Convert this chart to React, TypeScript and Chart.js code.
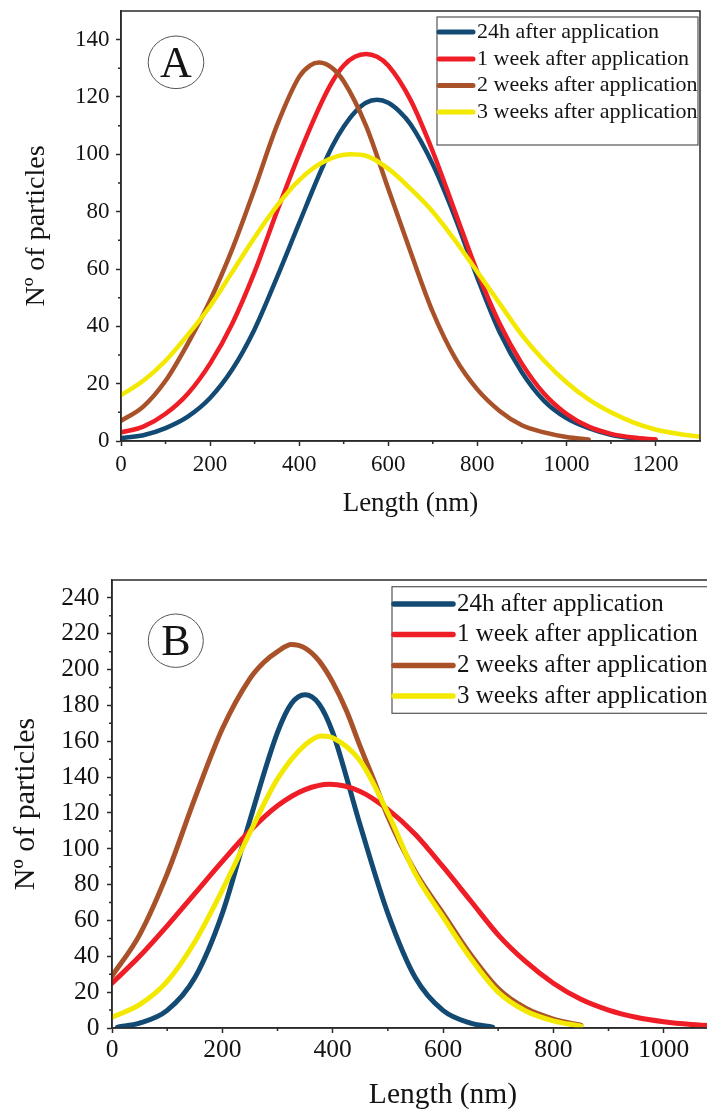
import React, { useEffect, useRef } from 'react';
import { Chart, registerables } from 'chart.js';
Chart.register(...registerables);

const FONT = "'Liberation Serif', 'Times New Roman', serif";
const AXIS = '#2a2a2a';
const TEXT = '#141414';

const SERIES_LABELS = [
  '24h after application',
  '1 week after application',
  '2 weeks after application',
  '3 weeks after application',
];
const SERIES_COLORS = ['#124a74', '#ee1d26', '#a9522a', '#f3e800'];
// lower order = drawn on top
const SERIES_ORDER = [3, 2, 1, 0];

// ---------- Panel A ----------
const H24_A_X = [0, 50, 100, 150, 200, 250, 300, 350, 400, 450, 475, 500, 525, 550, 575, 600, 625, 650, 700, 750, 800, 850, 900, 950, 1000, 1050, 1100, 1150, 1200];
const H24_A = [1, 2, 4.5, 8.5, 15, 25, 39, 57, 76, 94.7, 103, 109.6, 114.7, 118, 119, 118, 115, 110.5, 96.5, 78, 57, 38, 24, 14, 8, 4.5, 2.2, 1, 0.4];
const W1_A_X = [0, 50, 100, 150, 200, 250, 300, 350, 400, 450, 475, 500, 525, 550, 575, 600, 650, 700, 750, 800, 850, 900, 950, 1000, 1050, 1100, 1150, 1200];
const W1_A = [3, 5, 9.5, 16.5, 27, 41, 59, 80, 100, 118, 125.5, 131, 134, 135, 134, 131, 119, 101, 80, 59, 41, 27, 16.5, 9.5, 5, 2.5, 1.2, 0.5];
const W2_A_X = [0, 50, 100, 150, 200, 250, 300, 350, 400, 425, 445, 475, 500, 550, 600, 650, 700, 750, 800, 850, 900, 950, 1000, 1050];
const W2_A = [7, 12, 21, 34, 49, 67, 88, 110, 127, 131, 132, 130, 125.5, 110, 88, 66, 45, 29, 18, 10.5, 5.5, 3, 1.4, 0.5];
const W3_A_X = [0, 50, 100, 150, 200, 250, 300, 350, 400, 450, 515, 550, 600, 650, 700, 750, 800, 850, 900, 950, 1000, 1050, 1100, 1150, 1200, 1250, 1300];
const W3_A = [16, 21, 28, 37, 47, 59, 71, 82, 91, 97, 100, 99.5, 95, 88, 80, 70, 59, 48, 37, 28, 20.5, 14.5, 10, 6.5, 4, 2.5, 1.5];

// ---------- Panel B ----------
const H24_B_X = [10, 50, 100, 150, 200, 250, 300, 325, 350, 375, 400, 450, 500, 550, 600, 650, 690];
const H24_B = [0.5, 2.7, 9.8, 28, 64, 116, 165, 181, 186, 181, 165, 113, 64, 28, 9.8, 2.7, 0.5];
const W1_B_X = [0, 50, 100, 150, 200, 250, 300, 350, 395, 450, 500, 550, 600, 650, 700, 750, 800, 850, 900, 950, 1000, 1050, 1100, 1150, 1200];
const W1_B = [25, 40, 57, 75, 93, 110, 124, 133, 136, 132, 122, 108, 90, 71, 52, 37, 25, 16, 10, 6, 3.5, 2, 1.2, 0.7, 0.4];
const W2_B_X = [0, 50, 100, 150, 200, 250, 275, 300, 325, 350, 375, 400, 425, 450, 475, 500, 550, 600, 650, 700, 750, 800, 850];
const W2_B = [29, 52, 86, 128, 167, 195, 204, 210, 214, 212, 205, 193, 177, 157, 138, 118, 87, 64, 41, 22, 11, 5, 1.5];
const W3_B_X = [0, 50, 100, 150, 200, 250, 300, 350, 380, 400, 450, 500, 550, 600, 650, 700, 750, 800, 850];
const W3_B = [6, 13, 26, 48, 77, 109, 139, 158, 163, 162, 149, 120, 86, 62, 39, 20, 9.5, 4, 1];

const PANEL_A = {
  top: 0, height: 530, canvasWidth: 707,
  padding: { left: 0, top: 11, right: 7, bottom: 0 },
  yAxisWidth: 121, xAxisHeight: 89,
  xMax: 1300, xStep: 200, yMax: 150, yStep: 20,
  tickFont: 23, xTickPad: 5, yTickPad: 6.5, tickLen: 5,
  xTitleFont: 27, xTitlePad: 12.5, yTitleFont: 28, yTitlePad: 23,
  lineWidth: 4.5,
  mark: { text: 'A', cx: 176, cy: 62.3, rx: 27.8, ry: 26.3, font: 44 },
  legend: { left: 437, right: 698, top: 17, bottom: 145, rows: [32, 59, 85.5, 112], lineEnd: 473, textX: 477, font: 22, lineWidth: 5 },
  series: [
    { x: H24_A_X, y: H24_A },
    { x: W1_A_X, y: W1_A },
    { x: W2_A_X, y: W2_A },
    { x: W3_A_X, y: W3_A },
  ],
};

const PANEL_B = {
  top: 560, height: 551, canvasWidth: 781,
  padding: { left: 0, top: 20, right: 7, bottom: 0 },
  yAxisWidth: 112, xAxisHeight: 83,
  xMax: 1200, xStep: 200, yMax: 250, yStep: 20,
  tickFont: 25.5, xTickPad: 2, yTickPad: 7.5, tickLen: 5,
  xTitleFont: 29.5, xTitlePad: 1, yTitleFont: 30, yTitlePad: 11,
  lineWidth: 5,
  mark: { text: 'B', cx: 175.8, cy: 80.7, rx: 27.5, ry: 26.7, font: 44 },
  legend: { left: 392, right: 730, top: 26.7, bottom: 153.3, rows: [44, 74.5, 105.5, 136], lineEnd: 453, textX: 457, font: 25, lineWidth: 5.5 },
  series: [
    { x: H24_B_X, y: H24_B },
    { x: W1_B_X, y: W1_B },
    { x: W2_B_X, y: W2_B },
    { x: W3_B_X, y: W3_B },
  ],
};

function decorPlugin(p: any) {
  return {
    id: 'decor',
    afterDraw(chart: any) {
      const { ctx, chartArea: a, scales } = chart;
      ctx.save();
      // frame
      ctx.strokeStyle = AXIS;
      ctx.lineWidth = 1.5;
      ctx.strokeRect(a.left, a.top, a.right - a.left, a.bottom - a.top);
      // minor ticks
      ctx.beginPath();
      for (let v = p.xStep / 2; v < p.xMax; v += p.xStep) {
        const px = scales.x.getPixelForValue(v);
        ctx.moveTo(px, a.bottom);
        ctx.lineTo(px, a.bottom + 3);
      }
      for (let v = p.yStep / 2; v < p.yMax; v += p.yStep) {
        const py = scales.y.getPixelForValue(v);
        ctx.moveTo(a.left, py);
        ctx.lineTo(a.left - 3, py);
      }
      ctx.stroke();
      // circled panel mark
      const m = p.mark;
      ctx.beginPath();
      ctx.ellipse(m.cx, m.cy, m.rx, m.ry, 0, 0, Math.PI * 2);
      ctx.lineWidth = 1;
      ctx.strokeStyle = '#555';
      ctx.stroke();
      ctx.fillStyle = TEXT;
      ctx.font = `${m.font}px ${FONT}`;
      ctx.textAlign = 'center';
      ctx.textBaseline = 'alphabetic';
      ctx.fillText(m.text, m.cx, m.cy + m.font * 0.33);
      // legend
      const L = p.legend;
      ctx.fillStyle = '#fff';
      ctx.fillRect(L.left, L.top, L.right - L.left, L.bottom - L.top);
      ctx.strokeStyle = '#555';
      ctx.lineWidth = 1.2;
      ctx.strokeRect(L.left, L.top, L.right - L.left, L.bottom - L.top);
      chart.data.datasets.forEach((ds: any, i: number) => {
        const y = L.rows[i];
        ctx.beginPath();
        ctx.strokeStyle = ds.borderColor;
        ctx.lineWidth = L.lineWidth;
        ctx.lineCap = 'round';
        ctx.moveTo(L.left + 2, y);
        ctx.lineTo(L.lineEnd, y);
        ctx.stroke();
        ctx.fillStyle = TEXT;
        ctx.font = `${L.font}px ${FONT}`;
        ctx.textAlign = 'left';
        ctx.textBaseline = 'middle';
        ctx.fillText(ds.label, L.textX, y);
      });
      ctx.restore();
    },
  };
}

function buildConfig(p: any): any {
  return {
    type: 'line',
    data: {
      datasets: p.series.map((s: any, i: number) => ({
        label: SERIES_LABELS[i],
        data: s.x.map((x: number, j: number) => ({ x, y: s.y[j] })),
        borderColor: SERIES_COLORS[i],
        backgroundColor: SERIES_COLORS[i],
        borderWidth: p.lineWidth,
        pointRadius: 0,
        cubicInterpolationMode: 'monotone',
        fill: false,
        order: SERIES_ORDER[i],
        borderCapStyle: 'round',
        borderJoinStyle: 'round',
      })),
    },
    options: {
      responsive: false,
      animation: false,
      events: [],
      layout: { padding: p.padding },
      plugins: { legend: { display: false }, tooltip: { enabled: false } },
      scales: {
        x: {
          type: 'linear',
          min: 0,
          max: p.xMax,
          afterFit: (s: any) => {
            s.height = p.xAxisHeight;
            s.paddingLeft = 0; s.paddingRight = 0; s.paddingTop = 0; s.paddingBottom = 0;
          },
          ticks: {
            stepSize: p.xStep,
            includeBounds: false,
            autoSkip: false,
            maxRotation: 0,
            padding: p.xTickPad,
            color: TEXT,
            font: { family: FONT, size: p.tickFont },
            callback: (v: number) => String(v),
          },
          grid: { drawOnChartArea: false, drawTicks: true, tickLength: p.tickLen, tickColor: AXIS, tickWidth: 1.5 },
          border: { display: true, color: AXIS, width: 1.5 },
          title: {
            display: true,
            text: 'Length (nm)',
            color: TEXT,
            font: { family: FONT, size: p.xTitleFont, lineHeight: 1 },
            padding: { top: 0, bottom: p.xTitlePad },
          },
        },
        y: {
          type: 'linear',
          min: 0,
          max: p.yMax,
          afterFit: (s: any) => {
            s.width = p.yAxisWidth;
            s.paddingLeft = 0; s.paddingRight = 0; s.paddingTop = 0; s.paddingBottom = 0;
          },
          ticks: {
            stepSize: p.yStep,
            includeBounds: false,
            autoSkip: false,
            padding: p.yTickPad,
            color: TEXT,
            font: { family: FONT, size: p.tickFont },
            callback: (v: number) => String(v),
          },
          grid: { drawOnChartArea: false, drawTicks: true, tickLength: p.tickLen, tickColor: AXIS, tickWidth: 1.5 },
          border: { display: true, color: AXIS, width: 1.5 },
          title: {
            display: true,
            text: 'Nº of particles',
            color: TEXT,
            font: { family: FONT, size: p.yTitleFont, lineHeight: 1 },
            padding: { top: p.yTitlePad, bottom: 0 },
          },
        },
      },
    },
    plugins: [decorPlugin(p)],
  };
}

function Panel({ cfg }: { cfg: any }) {
  const ref = useRef<HTMLCanvasElement>(null);
  useEffect(() => {
    const chart = new Chart(ref.current as HTMLCanvasElement, buildConfig(cfg));
    return () => chart.destroy();
  }, [cfg]);
  return (
    <div style={{ position: 'absolute', left: 0, top: cfg.top, width: 707, height: cfg.height, overflow: 'hidden' }}>
      <canvas
        ref={ref}
        width={cfg.canvasWidth}
        height={cfg.height}
        style={{ display: 'block', width: cfg.canvasWidth, height: cfg.height }}
      />
    </div>
  );
}

export default function App() {
  return (
    <div style={{ position: 'absolute', left: 0, top: 0, width: 707, height: 1111, overflow: 'hidden', background: '#fff' }}>
      <Panel cfg={PANEL_A} />
      <Panel cfg={PANEL_B} />
    </div>
  );
}
